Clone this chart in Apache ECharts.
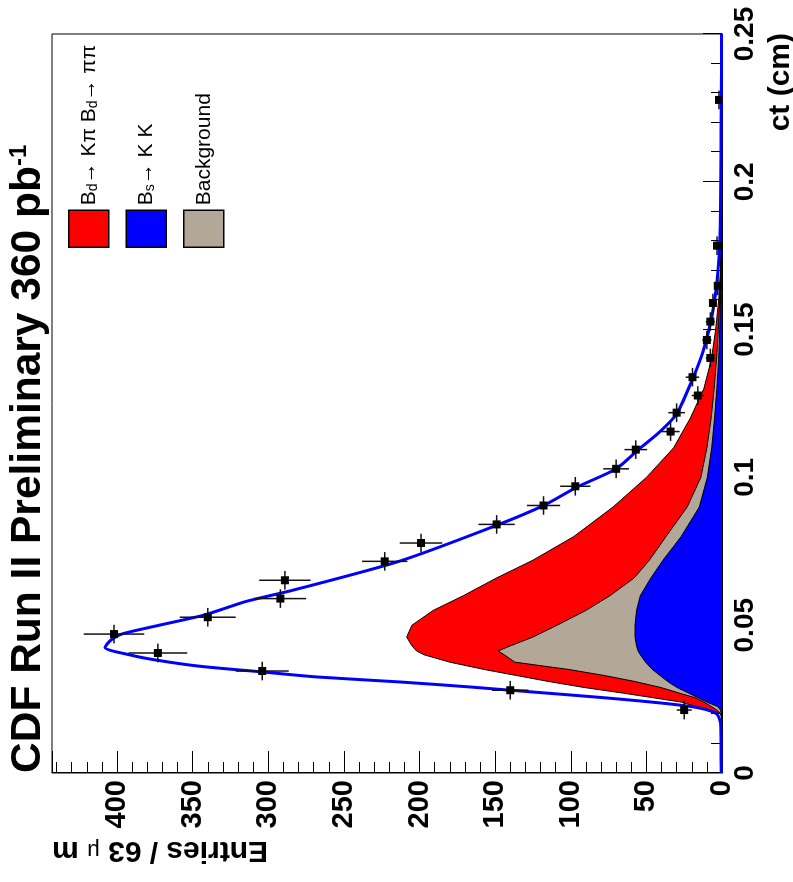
<!DOCTYPE html>
<html>
<head>
<meta charset="utf-8">
<script src="https://cdn.jsdelivr.net/npm/echarts@6/dist/echarts.min.js"></script>
<style>
  html, body { margin: 0; padding: 0; background: #fff; overflow: hidden; }
  /* ROOT plot is shown turned 90deg: draw it landscape, then rotate the box */
  #chart {
    position: absolute; left: 0; top: 0;
    width: 882px; height: 793px;
    transform-origin: 0 0;
    transform: translate(0, 882px) rotate(-90deg);
  }
</style>
</head>
<body>
<div id="chart"></div>
<script>
// ct grid shared by the three filled components (cm)
const ctGrid = [0, 0.018, 0.020, 0.0213, 0.0225, 0.024, 0.0255, 0.027, 0.029, 0.031,
  0.033, 0.035, 0.0375, 0.040, 0.0413, 0.043, 0.046, 0.050, 0.055, 0.060,
  0.066, 0.072, 0.080, 0.090, 0.100, 0.110, 0.120, 0.130, 0.140, 0.150,
  0.160, 0.170, 0.180, 0.200, 0.250];
// cumulative tops: Bd + background + Bs, background + Bs, Bs
const totalTop = [0, 0, 1, 7, 17, 27, 46, 65, 92, 115,
  136, 157, 180, 197, 202, 205, 208.5, 205, 191, 171,
  149, 125, 98, 72, 50, 32, 21, 12, 7, 4.2,
  2.2, 1, 0.5, 0.2, 0];
const bkgTop = [0, 0, 0.5, 3.5, 7, 12, 18, 28, 41, 58,
  78, 101, 137, 144, 148, 140, 125, 109, 90, 74,
  58, 48, 37, 23, 14, 10, 7.2, 5.2, 3.6, 2.4,
  1.5, 0.9, 0.5, 0.2, 0];
const bsTop = [0, 0, 0.3, 1, 3, 10, 16, 22, 30, 36,
  41, 46, 50.5, 54, 55.5, 56.5, 57.5, 57.5, 56.5, 54,
  47, 39, 27, 15, 9.7, 6.8, 4.9, 3.4, 2.2, 1.5,
  1, 0.6, 0.4, 0.2, 0];

// total fit curve
const fitCt = [0, 0.010, 0.017, 0.020, 0.022, 0.0235, 0.0256, 0.028, 0.0292, 0.0308,
  0.0325, 0.0342, 0.0361, 0.0382, 0.0399, 0.0425, 0.045, 0.047, 0.050, 0.0535,
  0.058, 0.0618, 0.0717, 0.0838, 0.0905, 0.0967, 0.1029, 0.1091, 0.1155, 0.1215,
  0.1339, 0.144, 0.1542, 0.1654, 0.1824, 0.227, 0.25];
const fitVal = [0.5, 0.7, 1, 3.5, 15, 37, 81, 140, 169, 213,
  268, 304, 345, 374, 391, 408, 404, 397, 372, 342,
  315, 284, 213, 149, 118, 96, 70, 56, 41, 30,
  19, 11.7, 6.8, 3.5, 1.3, 0.5, 0.3];

// data points
const binWidth = 0.0063;
const pointCt = [0.0213, 0.028, 0.0345, 0.0406, 0.047, 0.0527, 0.059, 0.0652, 0.0716, 0.0778,
  0.0841, 0.0905, 0.097, 0.1029, 0.1094, 0.1155, 0.1219, 0.1277, 0.1339, 0.1404,
  0.1465, 0.1527, 0.159, 0.1648, 0.1784, 0.2277];
const pointVal = [25, 140, 304, 373, 402, 340, 292, 289, 223, 199,
  149, 118, 97, 70, 57, 34, 30, 16, 19.5, 7.7,
  10, 7.7, 6, 2.8, 3.3, 2];
const pointErr = [5, 12, 17.5, 19.5, 20, 18.5, 17, 17, 15, 14,
  12, 11, 10, 8.5, 7.5, 6, 5.5, 4, 4.5, 3,
  3, 3, 2.5, 1.7, 2, 1.4];

const yTicks = [0, 50, 100, 150, 200, 250, 300, 350, 400];

const FONT = "'Liberation Sans', Arial, sans-serif";
const pairs = (xs, ys) => xs.map((x, i) => [x, ys[i]]);

const legendText = {
  'Bd': 'B{sub|d}\u2192 K\u03c0 B{sub|d}\u2192 \u03c0\u03c0',
  'Bs': 'B{sub|s}\u2192 K K',
  'Background': 'Background'
};

function areaSeries(name, values, color) {
  return {
    name: name,
    type: 'line',
    data: pairs(ctGrid, values),
    symbol: 'none',
    silent: true,
    itemStyle: { color: color },
    lineStyle: { color: '#000', width: 1 },
    areaStyle: { color: color, opacity: 1 }
  };
}

function renderPoint(params, api) {
  const ct = api.value(0), n = api.value(1), err = api.value(2);
  const c = api.coord([ct, n]);
  const l = api.coord([ct - binWidth / 2, n]);
  const r = api.coord([ct + binWidth / 2, n]);
  const lo = api.coord([ct, Math.max(n - err, 0)]);
  const hi = api.coord([ct, n + err]);
  const st = { stroke: '#111', lineWidth: 1.5 };
  return {
    type: 'group',
    children: [
      { type: 'line', shape: { x1: l[0], y1: l[1], x2: r[0], y2: r[1] }, style: st },
      { type: 'line', shape: { x1: lo[0], y1: lo[1], x2: hi[0], y2: hi[1] }, style: st },
      { type: 'rect', shape: { x: c[0] - 4, y: c[1] - 4, width: 8, height: 8 }, style: { fill: '#000' } }
    ]
  };
}

const chart = echarts.init(document.getElementById('chart'));

const option = {
  animation: false,
  backgroundColor: '#fff',
  title: {
    text: 'CDF Run II Preliminary 360 pb{sup|-1}',
    left: 109,
    top: 7,
    padding: 0,
    textStyle: {
      fontFamily: FONT, fontSize: 42.5, fontWeight: 'bold', color: '#000',
      rich: {
        sup: { fontFamily: FONT, fontSize: 24, fontWeight: 'bold', color: '#000', verticalAlign: 'top' }
      }
    }
  },
  legend: {
    orient: 'vertical',
    left: 634,
    top: 68,
    padding: 0,
    itemWidth: 37,
    itemHeight: 40,
    itemGap: 16,
    selectedMode: false,
    icon: 'rect',
    data: [
      { name: 'Bd', itemStyle: { color: '#ff0000', borderColor: '#000', borderWidth: 1.5 } },
      { name: 'Bs', itemStyle: { color: '#0000ff', borderColor: '#000', borderWidth: 1.5 } },
      { name: 'Background', itemStyle: { color: '#b3a797', borderColor: '#000', borderWidth: 1.5 } }
    ],
    formatter: name => legendText[name],
    textStyle: {
      fontFamily: FONT, fontSize: 21, color: '#000',
      rich: {
        sub: { fontFamily: FONT, fontSize: 14, color: '#000', verticalAlign: 'bottom', padding: [8, 0, 0, 0] }
      }
    }
  },
  grid: {
    left: 109, right: 34, top: 52, bottom: 71,
    show: true, borderColor: '#000', borderWidth: 1
  },
  xAxis: {
    type: 'value',
    min: 0, max: 0.25, interval: 0.05,
    axisLine: { lineStyle: { color: '#000', width: 1 } },
    axisTick: { inside: true, length: 19, lineStyle: { color: '#000', width: 1 } },
    minorTick: { show: true, splitNumber: 5, length: 11, lineStyle: { color: '#000', width: 1 } },
    splitLine: { show: false },
    axisLabel: { fontFamily: FONT, fontSize: 28, fontWeight: 'bold', color: '#000', margin: 9 }
  },
  yAxis: {
    type: 'value',
    min: 0, max: 443, interval: 50,
    axisLine: { show: true, lineStyle: { color: '#000', width: 1 } },
    axisTick: { show: true, inside: true, length: 22, lineStyle: { color: '#000', width: 1 } },
    minorTick: { show: true, splitNumber: 5, length: 11, lineStyle: { color: '#000', width: 1 } },
    splitLine: { show: false },
    axisLabel: {
      fontFamily: FONT, fontSize: 29, fontWeight: 'bold', color: '#000', margin: 7,
      formatter: v => (yTicks.indexOf(v) >= 0 ? String(v) : '')
    }
  },
  graphic: [
    {
      type: 'text', x: 849, y: 781,
      style: {
        text: 'ct (cm)', fontFamily: FONT, fontSize: 30, fontWeight: 'bold', fill: '#000',
        align: 'right', verticalAlign: 'middle'
      }
    },
    {
      type: 'text', x: 32, y: 52, rotation: Math.PI / 2,
      style: {
        text: 'Entries / 63 {mu|\u03bc} m', fontFamily: FONT, fontSize: 30, fontWeight: 'bold', fill: '#000',
        align: 'right', verticalAlign: 'middle',
        rich: { mu: { fontFamily: FONT, fontSize: 22, fontWeight: 'normal', fill: '#000' } }
      }
    }
  ],
  series: [
    areaSeries('Bd', totalTop, '#ff0000'),
    areaSeries('Background', bkgTop, '#b3a797'),
    areaSeries('Bs', bsTop, '#0000ff'),
    {
      name: 'Fit',
      type: 'line',
      data: pairs(fitCt, fitVal),
      symbol: 'none',
      smooth: 0.25,
      silent: true,
      lineStyle: { color: '#0000ff', width: 3 },
      z: 4
    },
    {
      name: 'Data',
      type: 'custom',
      renderItem: renderPoint,
      clip: true,
      data: pointCt.map((c, i) => [c, pointVal[i], pointErr[i]]),
      z: 5
    }
  ]
};

chart.setOption(option);
</script>
</body>
</html>
